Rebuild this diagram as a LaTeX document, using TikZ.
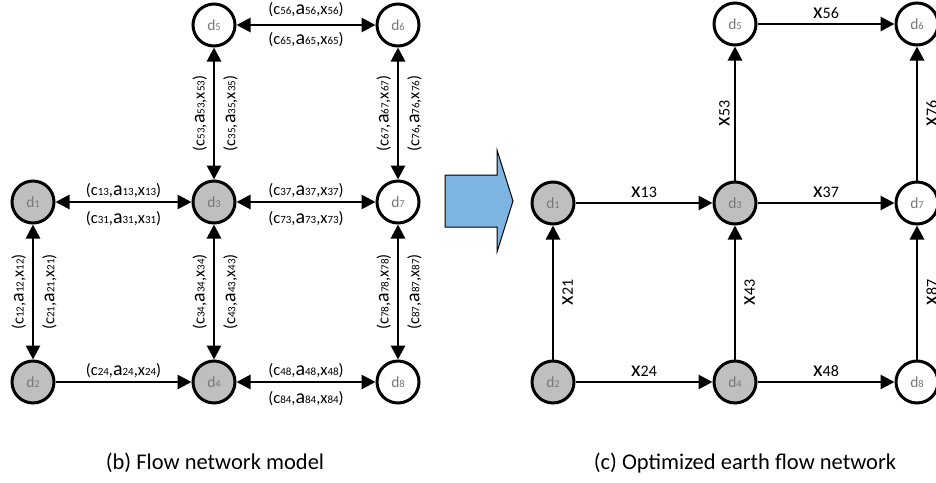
\documentclass[tikz,border=0pt]{standalone}
\usepackage{fontspec}
\setmainfont{Carlito}
\usepackage{xcolor}
\usetikzlibrary{positioning,arrows.meta}

\definecolor{nodegray}{RGB}{191,191,191}
\definecolor{labelgray}{RGB}{120,120,120}
\definecolor{arrowblue}{RGB}{125,180,226}

% small indices sitting on the baseline
\newcommand{\idx}[1]{{\fontsize{11}{11}\selectfont #1}}
\newcommand{\dnode}[1]{d{\fontsize{10.5}{10.5}\selectfont #1}}
\newcommand{\cax}[1]{(c\idx{#1},{\fontsize{20}{20}\selectfont a}\idx{#1},x\idx{#1})}
\newcommand{\xflow}[1]{x{\fontsize{16}{16}\selectfont #1}}

\begin{document}
\begin{tikzpicture}[x=1pt,y=1pt,>={Triangle[length=14pt,width=14pt]},
    site/.style={circle,draw,on grid,line width=3pt,minimum size=42pt,inner sep=0pt,
      text=labelgray,font=\fontsize{15.5}{15.5}\selectfont},
    full/.style={site,fill=nodegray},
    empty/.style={site,fill=white},
    link/.style={line width=2.8pt},
    lab/.style={inner sep=0pt,text height=12pt,text depth=3pt,font=\fontsize{16.5}{16.5}\selectfont},
    xlab/.style={inner sep=1pt,font=\fontsize{22}{22}\selectfont}]
  \useasboundingbox (0,0) rectangle (936,-482);

  % flow network model
  \node[full] (b1) at (33,-202) {\dnode{1}};
  \node[full,right=181pt of b1] (b3) {\dnode{3}};
  \node[empty,right=184pt of b3] (b7) {\dnode{7}};
  \node[empty,above=177pt of b3] (b5) {\dnode{5}};
  \node[empty,above=177pt of b7] (b6) {\dnode{6}};
  \node[full,below=180pt of b1] (b2) {\dnode{2}};
  \node[full,below=180pt of b3] (b4) {\dnode{4}};
  \node[empty,below=180pt of b7] (b8) {\dnode{8}};

  \draw[link,<->] (b1) -- node[lab,above=2pt] {\cax{13}} node[lab,below=8pt] {\cax{31}} (b3);
  \draw[link,<->] (b3) -- node[lab,above=2pt] {\cax{37}} node[lab,below=8pt] {\cax{73}} (b7);
  \draw[link,<->] (b5) -- node[lab,above=6pt] {\cax{56}} node[lab,below=6pt] {\cax{65}} (b6);
  \draw[link,->] (b2) -- node[lab,above=2pt] {\cax{24}} (b4);
  \draw[link,<->] (b4) -- node[lab,above=2pt] {\cax{48}} node[lab,below=8pt] {\cax{84}} (b8);
  \draw[link,<->] (b2) -- node[lab,sloped,above=5pt] {\cax{12}} node[lab,sloped,below=8pt] {\cax{21}} (b1);
  \draw[link,<->] (b3) -- node[lab,sloped,above=5pt] {\cax{53}} node[lab,sloped,below=8pt] {\cax{35}} (b5);
  \draw[link,<->] (b4) -- node[lab,sloped,above=5pt] {\cax{34}} node[lab,sloped,below=8pt] {\cax{43}} (b3);
  \draw[link,<->] (b7) -- node[lab,sloped,above=5pt] {\cax{67}} node[lab,sloped,below=8pt] {\cax{76}} (b6);
  \draw[link,<->] (b8) -- node[lab,sloped,above=5pt] {\cax{78}} node[lab,sloped,below=8pt] {\cax{87}} (b7);

  % big arrow between the two networks
  \draw[fill=arrowblue,line width=1pt] (445,-175) -- (497,-175) -- (497,-150) -- (513,-201)
    -- (497,-252) -- (497,-227) -- (445,-227) -- cycle;

  % optimized earth flow network
  \node[full] (c1) at (553,-203) {\dnode{1}};
  \node[full,right=182pt of c1] (c3) {\dnode{3}};
  \node[empty,right=182pt of c3] (c7) {\dnode{7}};
  \node[empty,above=179pt of c3] (c5) {\dnode{5}};
  \node[empty,above=179pt of c7] (c6) {\dnode{6}};
  \node[full,below=179pt of c1] (c2) {\dnode{2}};
  \node[full,below=179pt of c3] (c4) {\dnode{4}};
  \node[empty,below=179pt of c7] (c8) {\dnode{8}};

  \draw[link,->] (c1) -- node[xlab,above=3pt] {\xflow{13}} (c3);
  \draw[link,->] (c3) -- node[xlab,above=3pt] {\xflow{37}} (c7);
  \draw[link,->] (c5) -- node[xlab,above=3pt] {\xflow{56}} (c6);
  \draw[link,->] (c2) -- node[xlab,above=3pt] {\xflow{24}} (c4);
  \draw[link,->] (c4) -- node[xlab,above=3pt] {\xflow{48}} (c8);
  \draw[link,->] (c2) -- node[xlab,sloped,below=7pt] {\xflow{21}} (c1);
  \draw[link,->] (c3) -- node[xlab,sloped,above=3pt] {\xflow{53}} (c5);
  \draw[link,->] (c4) -- node[xlab,sloped,below=7pt] {\xflow{43}} (c3);
  \draw[link,->] (c7) -- node[xlab,sloped,below=7pt] {\xflow{76}} (c6);
  \draw[link,->] (c8) -- node[xlab,sloped,below=7pt] {\xflow{87}} (c7);

  % captions
  \node[anchor=base,font=\fontsize{22.5}{22.5}\selectfont] (capb) at (215,-469) {(b) Flow network model};
  \node[anchor=base,font=\fontsize{22.5}{22.5}\selectfont] (capc) at (745,-469) {(c) Optimized earth flow network};
\end{tikzpicture}
\end{document}
